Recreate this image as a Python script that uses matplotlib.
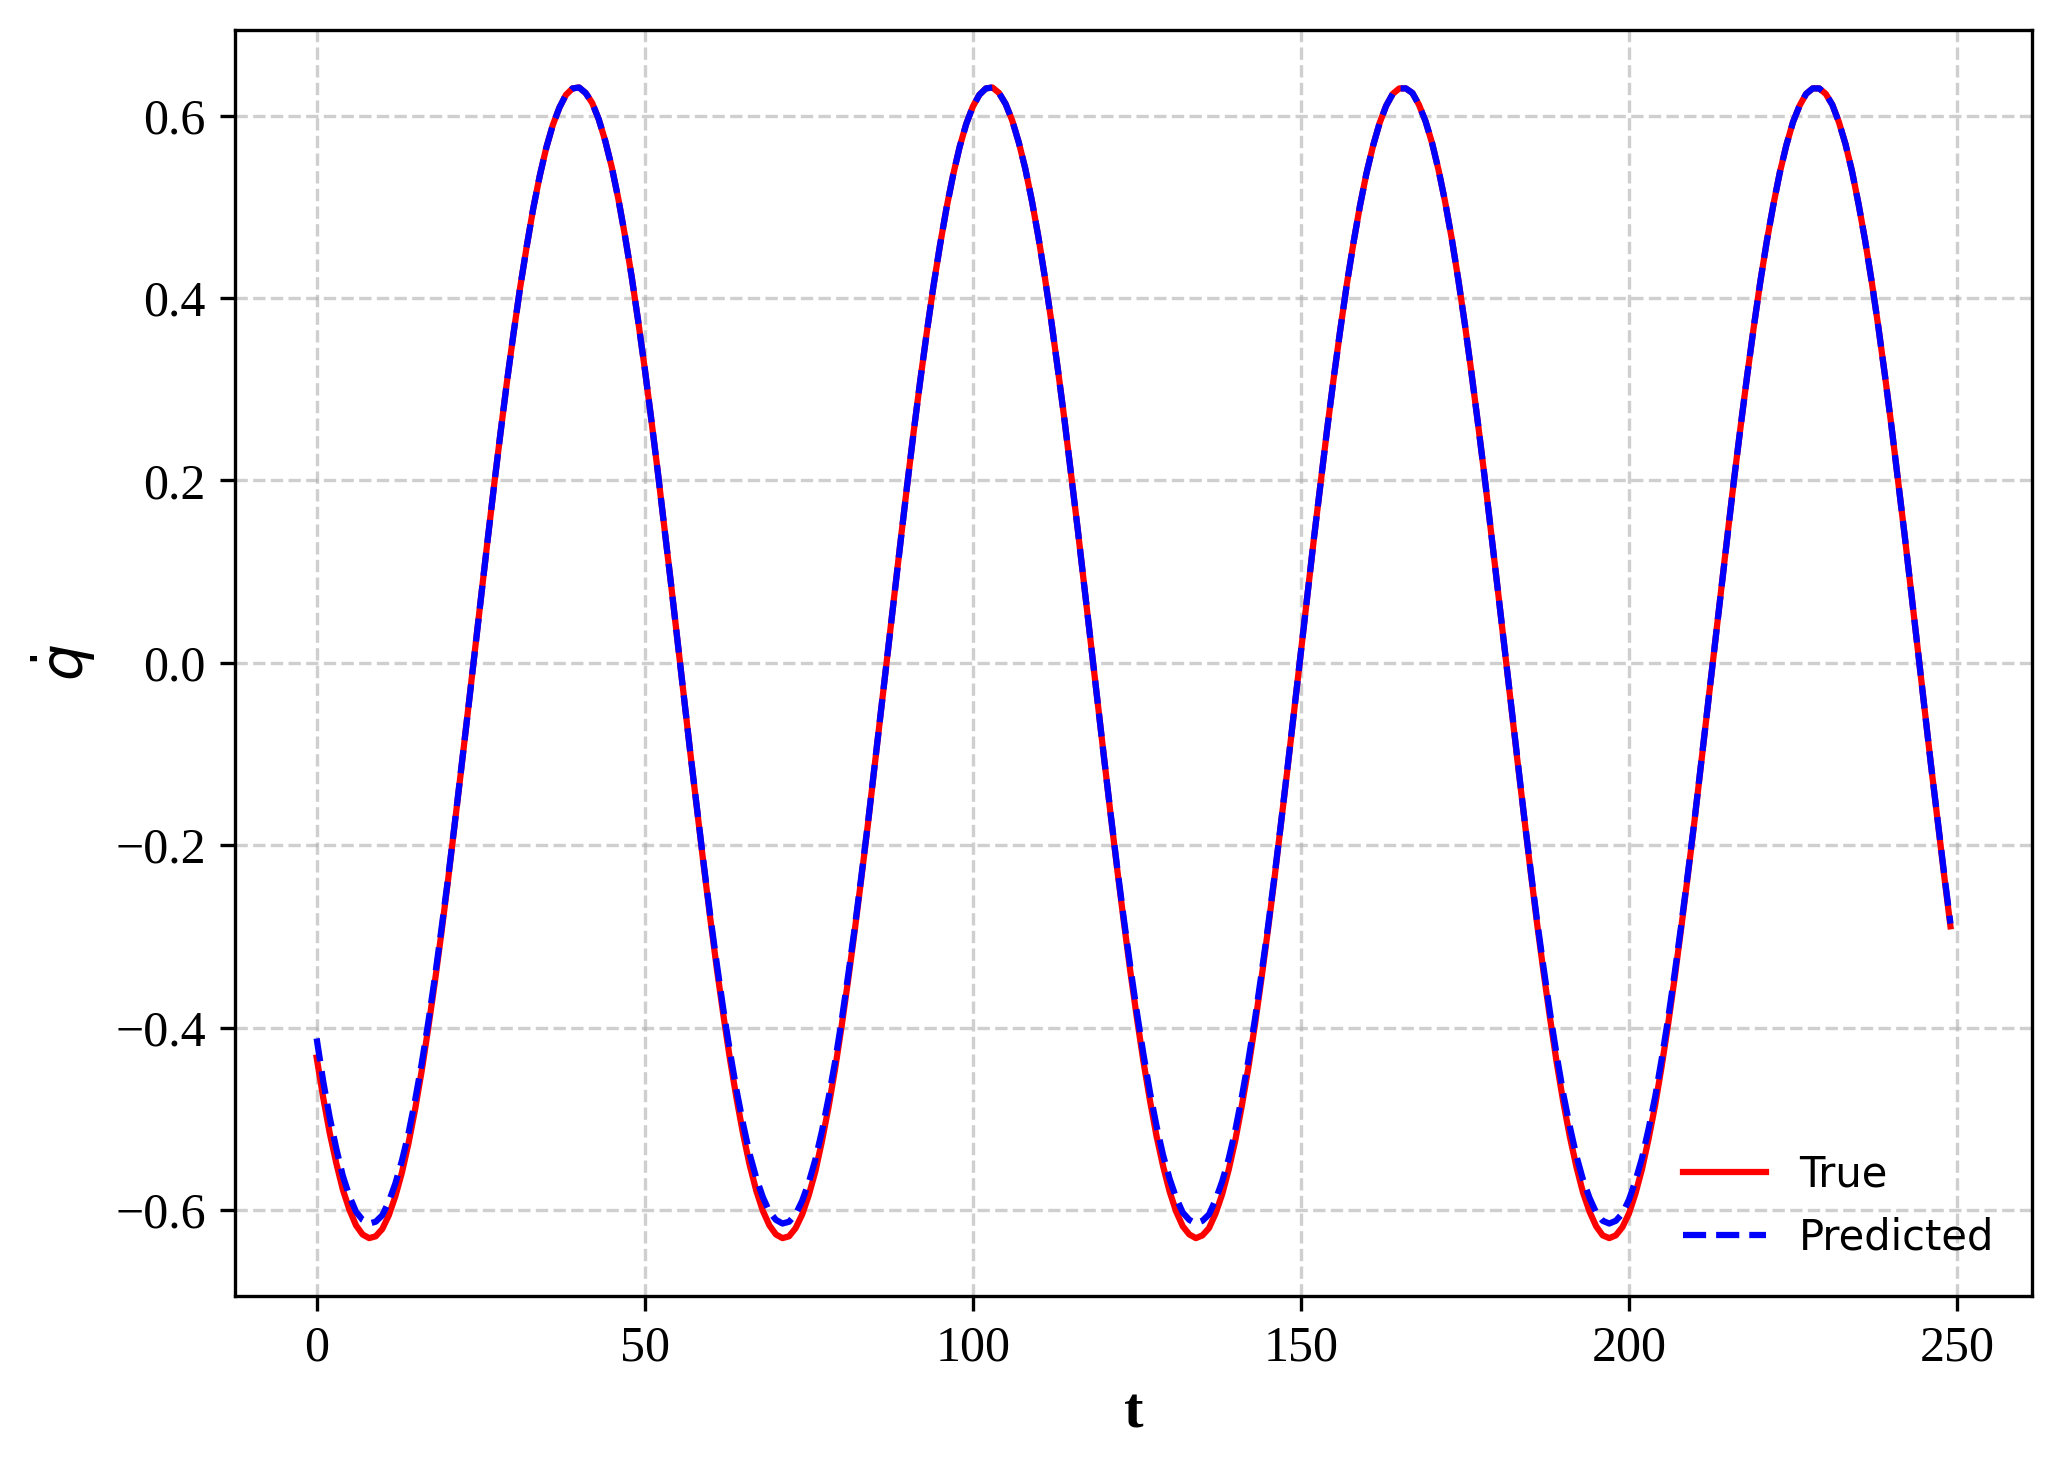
import numpy as np
import matplotlib
matplotlib.use("Agg")
import matplotlib.pyplot as plt

plt.rcParams["font.family"] = "serif"
plt.rcParams["font.serif"] = ["Liberation Serif", "DejaVu Serif"]

# q-dot, true trajectory (t = 0 .. 249)
TRUE_QDOT = [
    -0.433, -0.477, -0.516, -0.549, -0.578, -0.600, -0.617, -0.627, -0.631, -0.629,
    -0.621, -0.606, -0.585, -0.559, -0.527, -0.490, -0.448, -0.401, -0.351, -0.297,
    -0.240, -0.180, -0.119, -0.057, 0.006, 0.069, 0.131, 0.192, 0.251, 0.308,
    0.361, 0.411, 0.456, 0.498, 0.534, 0.565, 0.590, 0.609, 0.623, 0.630,
    0.631, 0.625, 0.614, 0.596, 0.572, 0.543, 0.508, 0.468, 0.424, 0.375,
    0.323, 0.267, 0.209, 0.148, 0.087, 0.024, -0.039, -0.102, -0.163, -0.223,
    -0.281, -0.336, -0.387, -0.435, -0.478, -0.517, -0.551, -0.579, -0.601, -0.617,
    -0.627, -0.631, -0.629, -0.620, -0.605, -0.584, -0.558, -0.525, -0.488, -0.446,
    -0.399, -0.348, -0.294, -0.237, -0.178, -0.116, -0.054, 0.009, 0.072, 0.134,
    0.195, 0.254, 0.310, 0.363, 0.413, 0.458, 0.499, 0.535, 0.566, 0.591,
    0.610, 0.623, 0.630, 0.631, 0.625, 0.613, 0.595, 0.571, 0.542, 0.507,
    0.467, 0.422, 0.373, 0.320, 0.265, 0.206, 0.146, 0.084, 0.021, -0.042,
    -0.104, -0.166, -0.226, -0.283, -0.338, -0.389, -0.437, -0.480, -0.519, -0.552,
    -0.580, -0.602, -0.618, -0.627, -0.631, -0.628, -0.620, -0.604, -0.583, -0.556,
    -0.524, -0.486, -0.444, -0.397, -0.346, -0.292, -0.235, -0.175, -0.114, -0.051,
    0.012, 0.074, 0.137, 0.197, 0.256, 0.312, 0.365, 0.415, 0.460, 0.501,
    0.537, 0.567, 0.592, 0.611, 0.624, 0.630, 0.630, 0.625, 0.612, 0.594,
    0.570, 0.540, 0.505, 0.465, 0.420, 0.371, 0.318, 0.262, 0.204, 0.143,
    0.081, 0.019, -0.044, -0.107, -0.168, -0.228, -0.286, -0.340, -0.391, -0.439,
    -0.482, -0.520, -0.553, -0.581, -0.602, -0.618, -0.628, -0.631, -0.628, -0.619,
    -0.604, -0.582, -0.555, -0.522, -0.485, -0.442, -0.395, -0.344, -0.289, -0.232,
    -0.173, -0.111, -0.049, 0.014, 0.077, 0.139, 0.200, 0.258, 0.314, 0.367,
    0.417, 0.462, 0.502, 0.538, 0.568, 0.593, 0.611, 0.624, 0.630, 0.630,
    0.624, 0.612, 0.593, 0.569, 0.539, 0.503, 0.463, 0.418, 0.369, 0.316,
    0.260, 0.201, 0.141, 0.079, 0.016, -0.047, -0.110, -0.171, -0.231, -0.289,
]

# q-dot, model prediction (slightly shallower troughs)
PRED_QDOT = [
    -0.412, -0.459, -0.499, -0.533, -0.563, -0.585, -0.602, -0.611, -0.615, -0.613,
    -0.606, -0.591, -0.571, -0.546, -0.516, -0.480, -0.440, -0.395, -0.346, -0.293,
    -0.238, -0.179, -0.118, -0.057, 0.006, 0.069, 0.131, 0.192, 0.251, 0.308,
    0.361, 0.411, 0.456, 0.498, 0.534, 0.565, 0.590, 0.609, 0.623, 0.630,
    0.631, 0.625, 0.614, 0.596, 0.572, 0.543, 0.508, 0.468, 0.424, 0.375,
    0.323, 0.267, 0.209, 0.148, 0.087, 0.024, -0.039, -0.102, -0.162, -0.221,
    -0.278, -0.331, -0.381, -0.427, -0.469, -0.506, -0.539, -0.565, -0.586, -0.602,
    -0.611, -0.615, -0.613, -0.605, -0.590, -0.570, -0.545, -0.514, -0.478, -0.438,
    -0.393, -0.343, -0.291, -0.235, -0.177, -0.115, -0.054, 0.009, 0.072, 0.134,
    0.195, 0.254, 0.310, 0.363, 0.413, 0.458, 0.499, 0.535, 0.566, 0.591,
    0.610, 0.623, 0.630, 0.631, 0.625, 0.613, 0.595, 0.571, 0.542, 0.507,
    0.467, 0.422, 0.373, 0.320, 0.265, 0.206, 0.146, 0.084, 0.021, -0.042,
    -0.104, -0.165, -0.224, -0.280, -0.333, -0.383, -0.429, -0.471, -0.508, -0.540,
    -0.566, -0.587, -0.603, -0.611, -0.615, -0.612, -0.605, -0.589, -0.569, -0.544,
    -0.513, -0.476, -0.436, -0.391, -0.341, -0.289, -0.233, -0.174, -0.113, -0.051,
    0.012, 0.074, 0.137, 0.197, 0.256, 0.312, 0.365, 0.415, 0.460, 0.501,
    0.537, 0.567, 0.592, 0.611, 0.624, 0.630, 0.630, 0.625, 0.612, 0.594,
    0.570, 0.540, 0.505, 0.465, 0.420, 0.371, 0.318, 0.262, 0.204, 0.143,
    0.081, 0.019, -0.044, -0.106, -0.167, -0.226, -0.283, -0.335, -0.385, -0.431,
    -0.473, -0.509, -0.541, -0.567, -0.587, -0.603, -0.612, -0.615, -0.612, -0.604,
    -0.589, -0.568, -0.543, -0.511, -0.476, -0.434, -0.389, -0.339, -0.286, -0.230,
    -0.172, -0.110, -0.049, 0.014, 0.077, 0.139, 0.200, 0.258, 0.314, 0.367,
    0.417, 0.462, 0.502, 0.538, 0.568, 0.593, 0.611, 0.624, 0.630, 0.630,
    0.624, 0.612, 0.593, 0.569, 0.539, 0.503, 0.463, 0.418, 0.369, 0.316,
    0.260, 0.201, 0.141, 0.079, 0.016, -0.047, -0.110, -0.170, -0.229, -0.286,
]

T = np.arange(len(TRUE_QDOT))


def main():
    fig, ax = plt.subplots(figsize=(2061 / 300, 1469 / 300), dpi=300)
    fig.subplots_adjust(left=0.114, right=0.986, top=0.9796, bottom=0.118)

    ax.plot(T, TRUE_QDOT, "r-", linewidth=1.5, label="True")
    ax.plot(T, PRED_QDOT, "b--", linewidth=1.5, label="Predicted")

    ax.set_xlabel("t", fontsize=14, fontweight="bold")
    ax.set_ylabel(r"$\dot{q}$", fontsize=14)
    ax.tick_params(labelsize=12)
    ax.grid(True, linestyle="--", alpha=0.6)
    ax.legend(loc="lower right", frameon=False,
              prop={"family": "DejaVu Sans", "size": 10})

    fig.savefig("out.png", dpi=300)
    plt.close(fig)


if __name__ == "__main__":
    main()
